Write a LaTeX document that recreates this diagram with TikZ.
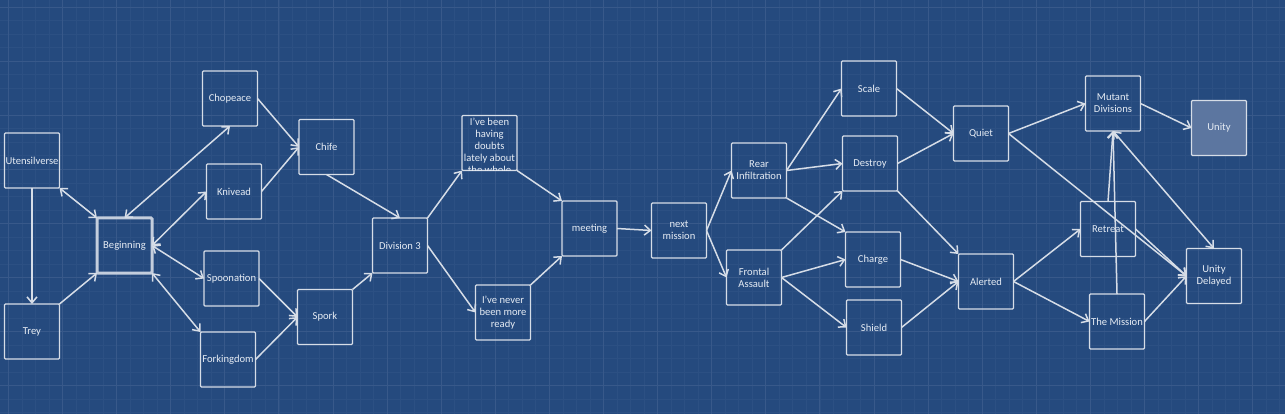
\documentclass[tikz,border=0pt]{standalone}
\usepackage{fontspec}
\setmainfont{Carlito}
\usetikzlibrary{arrows.meta}
\definecolor{bgblue}{RGB}{37,74,126}
\definecolor{gridmajor}{RGB}{56,89,138}
\definecolor{gridminor}{RGB}{44,80,131}
\definecolor{boxline}{RGB}{214,221,231}
\definecolor{boxtext}{RGB}{230,236,244}
\definecolor{unityfill}{RGB}{92,118,160}
\tikzset{>={Straight Barb[length=6pt,width=10pt]}}
\tikzset{passage/.style={draw=boxline, line width=1.3pt, rounded corners=1pt,
    minimum width=55pt, minimum height=55pt, inner sep=1pt, outer sep=0pt,
    text=boxtext, align=center, font=\fontsize{10.6}{12}\selectfont}}
\tikzset{link/.style={draw=boxline, line width=1.5pt}}

\begin{document}
\begin{tikzpicture}[x=1pt, y=-1pt]
\useasboundingbox (0,0) rectangle (1285,414);
\fill[bgblue] (0,0) rectangle (1285,414);
\foreach \x in {0,...,95} \draw[gridminor, line width=0.6pt] ({8.3+13.525*(\x-1)},0) -- ++(0,414);
\foreach \y in {0,...,31} \draw[gridminor, line width=0.6pt] (0,{7+13.525*(\y-1)}) -- ++(1285,0);
\foreach \x in {0,...,23} \draw[gridmajor, line width=0.8pt] ({8.3+54.1*\x},0) -- ++(0,414);
\foreach \y in {0,...,7} \draw[gridmajor, line width=0.8pt] (0,{7+54.1*\y}) -- ++(1285,0);

\node[passage] (utn) at (32,160.5) {Utensilverse};
\node[passage] (trey) at (32,331.5) {Trey};
\node[passage, line width=3pt, draw=boxline!90!bgblue] (beg) at (124.5,245.5) {Beginning};
\node[passage] (chop) at (230,98.5) {Chopeace};
\node[passage] (kniv) at (234,191.5) {Knivead};
\node[passage] (spoon) at (231.5,278.5) {Spoonation};
\node[passage] (fork) at (228,359.5) {Forkingdom};
\node[passage] (chife) at (326.5,147) {Chife};
\node[passage] (spork) at (325,317) {Spork};
\node[passage] (div) at (400,245.5) {Division 3};
\node[passage] (doubt) at (489.5,143) {};
\node[passage] (ready) at (503,312.5) {I've never\\been more\\ready};
\node[passage] (meet) at (589.5,228.5) {meeting};
\node[passage] (next) at (679,230.5) {next\\mission};

\node[passage] (rear) at (759,170.5) {Rear\\Infiltration};
\node[passage] (front) at (754,277.5) {Frontal\\Assault};
\node[passage] (scale) at (869,88.5) {Scale};
\node[passage] (destroy) at (870,163.5) {Destroy};
\node[passage] (charge) at (873,259.5) {Charge};
\node[passage] (shield) at (874,327.5) {Shield};
\node[passage] (quiet) at (981,133.5) {Quiet};
\node[passage] (alert) at (986,281.5) {Alerted};
\node[passage] (mutant) at (1113,103.5) {Mutant\\Divisions};
\node[passage, fill=unityfill] (unity) at (1219,128) {Unity};
\node[passage] (retreat) at (1108,229) {Retreat};
\node[passage] (mission) at (1117,321.5) {The Mission};
\node[passage] (delay) at (1214,276) {Unity\\Delayed};

% text of the long passage is cut off by its box
\begin{scope}
\clip (doubt.south west) rectangle (doubt.north east);
\node[passage, draw=none, anchor=north, minimum height=0pt, inner sep=0pt]
  (doubttext) at ([yshift=-2.5pt]doubt.north) {I've been\\having\\doubts\\lately about\\the whole};
\end{scope}

\draw[link, <->] (utn.south east) -- (beg.north west);
\draw[link, ->] (utn.south) -- (trey.north);
\draw[link, ->] (trey.north east) -- (beg.south west);
\draw[link, <->] (beg.north) -- (chop.south);
\draw[link, <->] (beg.east) -- (kniv.west);
\draw[link, <->] (beg.east) -- (spoon.west);
\draw[link, <->] (beg.south east) -- (fork.north west);
\draw[link, ->] (chop.east) -- (chife.west);
\draw[link, ->] (kniv.east) -- (chife.west);
\draw[link, ->] (spoon.east) -- (spork.west);
\draw[link, ->] (fork.east) -- (spork.west);
\draw[link, ->] (chife.south) -- (div.north);
\draw[link, ->] (spork.north east) -- (div.south west);
\draw[link, ->] (div.north east) -- (doubt.south west);
\draw[link, ->] (div.east) -- (ready.west);
\draw[link, ->] (doubt.south east) -- (meet.north west);
\draw[link, ->] (ready.north east) -- (meet.south west);
\draw[link, ->] (meet.east) -- (next.west);

\draw[link, ->] (next.east) -- (rear.west);
\draw[link, ->] (next.east) -- (front.west);
\draw[link, ->] (rear.east) -- (scale.west);
\draw[link, ->] (rear.east) -- (destroy.west);
\draw[link, ->] (rear.south east) -- (charge.north west);
\draw[link, ->] (front.north east) -- (destroy.south west);
\draw[link, ->] (front.east) -- (charge.west);
\draw[link, ->] (front.east) -- (shield.west);
\draw[link, ->] (scale.east) -- (quiet.west);
\draw[link, ->] (destroy.east) -- (quiet.west);
\draw[link, ->] (destroy.south east) -- (alert.north west);
\draw[link, ->] (charge.east) -- (alert.west);
\draw[link, ->] (shield.east) -- (alert.west);
\draw[link, ->] (quiet.east) -- (mutant.west);
\draw[link, ->] (quiet.east) -- (delay.west);
\draw[link, ->] (alert.east) -- (retreat.west);
\draw[link, ->] (alert.east) -- (mission.west);
\draw[link, ->] (mutant.east) -- (unity.west);
\draw[link, ->] (retreat.north) -- (mutant.south);
\draw[link, ->] (mission.north) -- (mutant.south);
\draw[link, <->] (mutant.south) -- (delay.north);
\draw[link, ->] (retreat.east) -- (delay.west);
\draw[link, ->] (mission.east) -- (delay.west);
\end{tikzpicture}
\end{document}
